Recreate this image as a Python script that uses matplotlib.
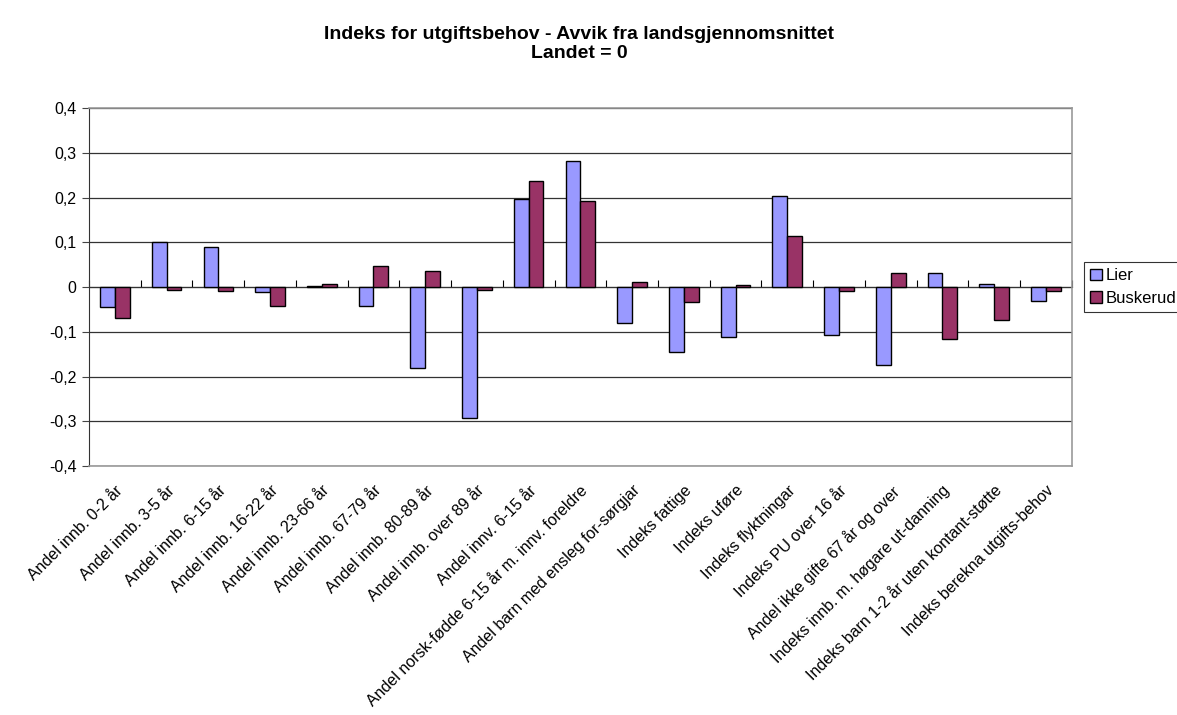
import matplotlib.pyplot as plt
import numpy as np

plt.rcParams['font.family'] = ['Liberation Sans', 'DejaVu Sans']
plt.rcParams['axes.unicode_minus'] = False

categories = [
    'Andel innb. 0-2 år', 'Andel innb. 3-5 år', 'Andel innb. 6-15 år',
    'Andel innb. 16-22 år', 'Andel innb. 23-66 år', 'Andel innb. 67-79 år',
    'Andel innb. 80-89 år', 'Andel innb. over 89 år', 'Andel innv. 6-15 år',
    'Andel norsk-fødde 6-15 år m. innv. foreldre',
    'Andel barn med ensleg for-sørgjar', 'Indeks fattige', 'Indeks uføre',
    'Indeks flyktningar', 'Indeks PU over 16 år', 'Andel ikke gifte 67 år og over',
    'Indeks innb. m. høgare ut-danning', 'Indeks barn 1-2 år uten kontant-støtte',
    'Indeks berekna utgifts-behov',
]
lier = [-0.044, 0.101, 0.090, -0.011, 0.002, -0.042, -0.181, -0.293, 0.196, 0.281,
        -0.081, -0.146, -0.112, 0.204, -0.108, -0.174, 0.031, 0.007, -0.030]
buskerud = [-0.070, -0.007, -0.008, -0.042, 0.006, 0.046, 0.036, -0.007, 0.237, 0.193,
            0.011, -0.033, 0.004, 0.114, -0.008, 0.031, -0.115, -0.073, -0.009]
yticks = [-0.4, -0.3, -0.2, -0.1, 0, 0.1, 0.2, 0.3, 0.4]
ytick_labels = ['-0,4', '-0,3', '-0,2', '-0,1', '0', '0,1', '0,2', '0,3', '0,4']

fig = plt.figure(figsize=(11.77, 7.15), dpi=100)
ax = fig.add_axes([0.0756, 0.348, 0.835, 0.501])

x = np.arange(len(categories))
w = 0.286
ax.bar(x - w / 2, lier, w, color='#9999FF', edgecolor='black', linewidth=1, label='Lier', zorder=3)
ax.bar(x + w / 2, buskerud, w, color='#993366', edgecolor='black', linewidth=1, label='Buskerud', zorder=3)

ax.set_xlim(-0.5, len(categories) - 0.5)
ax.set_ylim(-0.4, 0.4)
ax.set_yticks(yticks)
ax.set_yticklabels(ytick_labels, fontsize=11.5)
ax.yaxis.grid(True, color='#333333', linewidth=0.9, zorder=0)
ax.tick_params(axis='y', direction='out', length=5, width=0.8, color='#444444', pad=4)

ax.set_xticks(x)
ax.set_xticklabels(categories, rotation=45, ha='right', rotation_mode='anchor', fontsize=11.5)
ax.tick_params(axis='x', length=0, pad=12)

for side in ['top', 'right', 'bottom']:
    ax.spines[side].set_color('#999999')
    ax.spines[side].set_linewidth(1.2)
ax.spines['left'].set_color('#333333')

# category axis crossing at zero, with tick marks between groups
sec = ax.secondary_xaxis(0.5)
sec.set_xticks(np.arange(len(categories) + 1) - 0.5)
sec.set_xticklabels([])
sec.tick_params(direction='out', length=5, width=0.8, color='black')
sec.spines['bottom'].set_color('black')
sec.spines['bottom'].set_linewidth(1)

leg = fig.legend(loc='upper left', bbox_to_anchor=(0.921, 0.633), fontsize=12,
                 frameon=True, fancybox=False, edgecolor='black', handlelength=0.7,
                 handleheight=0.7, handletextpad=0.25, borderpad=0.35, labelspacing=0.45,
                 borderaxespad=0)
leg.get_frame().set_linewidth(0.8)

fig.text(0.492, 0.964, 'Indeks for utgiftsbehov - Avvik fra landsgjennomsnittet\nLandet = 0',
         ha='center', va='top', fontsize=14, fontweight='bold', linespacing=1.2)

fig.savefig('out.png', dpi=100)
